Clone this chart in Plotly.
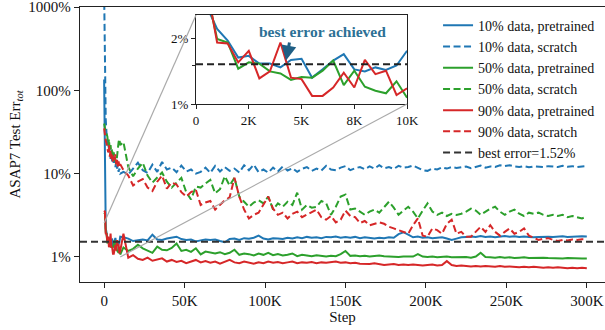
import numpy as np
import plotly.graph_objects as go

# ---------------- data ----------------
steps_early = list(range(0, 10001, 500))
steps_late = list(range(12000, 300001, 3000))
steps = steps_early + steps_late

p10_early = [135, 2.8, 2.20, 1.95, 1.63, 1.66, 1.53, 1.53, 1.47, 1.59, 1.61, 1.32, 1.44, 1.58, 1.69, 1.44, 1.41, 1.47, 1.43, 1.50, 1.75]
p50_early = [3.4, 3.3, 1.98, 1.91, 1.45, 1.55, 1.53, 1.41, 1.38, 1.29, 1.33, 1.32, 1.42, 1.58, 1.22, 1.42, 1.20, 1.15, 1.12, 1.27, 1.07]
p90_early = [3.6, 3.5, 1.91, 1.89, 1.55, 1.75, 1.31, 1.41, 1.91, 1.32, 1.30, 1.09, 1.09, 1.19, 1.39, 1.19, 1.59, 1.37, 1.42, 1.10, 1.18]
s10_early = [1500, 150, 45, 30, 22, 25, 18, 20, 15, 17, 14, 16, 13, 15, 12, 14, 11.5, 12.5, 10.5, 11.5, 10]
s50_early = [40, 33, 31, 30, 28, 22, 26, 19, 22, 17, 20, 15, 18, 14, 16, 13, 17, 21, 24, 26, 22]
s90_early = [35, 28, 25, 23, 20, 18, 22, 16, 19, 15, 17, 13.5, 16, 14, 17, 13, 15, 12, 14, 12, 13]

p10_late = [1.72, 1.66, 1.55, 1.58, 1.62, 1.58, 1.85, 1.62, 1.60, 1.66,
            1.70, 1.75, 1.64, 1.60, 1.62, 1.53, 1.58, 1.62, 1.60, 1.62,
            1.55, 1.50, 1.64, 1.66, 1.60, 1.68, 1.65, 1.70, 1.80, 1.66,
            1.62, 1.68, 1.66, 1.64, 1.70, 1.66, 1.72, 1.68, 1.74, 1.70,
            1.72, 1.68, 1.74, 1.72, 1.76, 1.70, 1.73, 1.70, 1.74, 1.68,
            1.72, 1.70, 1.66, 1.70, 1.68, 1.72, 1.70, 1.88, 1.98, 1.85,
            1.72, 1.76, 1.70, 1.72, 1.68, 1.70, 1.72, 1.66, 1.60, 1.66,
            1.72, 1.74, 1.76, 1.74, 1.78, 1.74, 1.76, 1.72, 1.76, 1.78,
            1.75, 1.77, 1.74, 1.76, 1.74, 1.72, 1.74, 1.76, 1.75, 1.73,
            1.75, 1.77, 1.74, 1.76, 1.75, 1.77, 1.76]
s10_late = [10.5, 9.8, 11.5, 13.5, 11.0, 10.2, 12.8, 10.5, 13.8, 11.2,
            11.8, 10.4, 12.5, 10.6, 11.2, 10.0, 10.5, 11.8, 10.2, 12.4,
            10.6, 12.0, 10.8, 11.5, 10.3, 12.6, 11.0, 12.8, 10.4, 11.2,
            10.3, 11.8, 10.6, 12.2, 10.9, 11.6, 10.5, 11.4, 12.0, 10.8,
            11.5, 10.9, 12.4, 11.2, 11.0, 11.8, 12.3, 11.0, 11.6, 12.0,
            11.3, 12.2, 11.5, 12.6, 11.6, 12.0, 11.4, 12.4, 11.8, 12.0,
            12.5, 11.6, 11.0, 10.8, 11.5, 11.2, 11.9, 11.5, 12.0, 11.7,
            11.9, 12.2, 11.6, 12.1, 12.5, 11.8, 12.2, 12.0, 12.6, 12.3,
            12.6, 12.2, 12.0, 12.3, 11.9, 12.2, 12.1, 12.0, 12.3, 12.1,
            12.0, 12.4, 12.1, 12.3, 12.0, 12.2, 12.3]
p50_late = [1.30, 1.18, 1.25, 1.40, 1.27, 1.18, 1.12, 1.33, 1.22, 1.20,
            1.28, 1.45, 1.18, 1.22, 1.15, 1.27, 1.07, 1.16, 1.12, 1.10,
            1.14, 1.08, 1.12, 1.22, 1.06, 1.10, 1.08, 1.04, 1.10, 1.06,
            1.12, 1.05, 1.08, 1.04, 1.06, 1.10, 1.02, 1.06, 1.04, 1.02,
            1.05, 1.03, 1.01, 1.03, 1.02, 1.08, 1.18, 1.03, 1.04, 1.02,
            1.03, 1.01, 1.03, 1.04, 1.02, 1.01, 1.02, 1.00, 1.01, 1.02,
            1.01, 1.08, 1.01, 1.00, 1.01, 0.99, 1.00, 1.01, 0.99, 1.00,
            0.99, 1.00, 0.98, 1.01, 1.12, 1.00, 0.99, 0.98, 1.00, 0.98,
            0.99, 0.97, 0.98, 0.99, 0.97, 0.98, 0.97, 0.98, 0.97, 0.96,
            0.97, 0.96, 0.97, 0.96, 0.97, 0.96, 0.96]
s50_late = [24, 12, 9.3, 11.5, 13.5, 9.5, 7.8, 9.0, 10.3, 8.0,
            6.8, 7.8, 8.9, 6.0, 4.9, 7.0, 6.8, 7.6, 8.4, 5.8,
            6.5, 9.3, 7.2, 8.9, 5.3, 4.6, 4.0, 4.5, 4.8, 4.4,
            5.3, 3.7, 4.4, 4.0, 4.6, 4.2, 5.9, 3.7, 4.2, 3.9,
            4.0, 4.7, 4.4, 3.2, 4.0, 5.3, 5.6, 3.7, 3.8, 3.5,
            3.2, 3.5, 3.7, 3.4, 4.0, 4.6, 3.9, 3.2, 3.6, 4.0,
            3.5, 2.9, 3.6, 4.4, 3.5, 3.2, 3.4, 3.1, 3.3, 3.2,
            3.3, 3.5, 3.8, 3.6, 3.2, 3.5, 3.8, 4.0, 3.5, 3.2,
            3.5, 3.7, 3.3, 3.1, 3.4, 3.3, 3.4, 3.2, 3.1, 3.2,
            3.1, 3.2, 3.0, 3.1, 3.0, 2.9, 3.05]
p90_late = [1.90, 0.98, 1.05, 0.95, 0.92, 0.98, 0.90, 0.93, 0.96, 0.88,
            0.92, 0.87, 0.90, 0.84, 0.88, 0.92, 0.86, 0.89, 0.85, 0.88,
            0.83, 0.87, 0.92, 0.86, 0.84, 0.88, 0.85, 0.83, 0.86, 0.84,
            0.88, 0.85, 0.87, 0.84, 0.86, 0.88, 0.84, 0.86, 0.85, 0.87,
            0.84, 0.86, 0.85, 0.87, 0.88, 0.85, 0.86, 0.84, 0.85, 0.83,
            0.83, 0.82, 0.84, 0.82, 0.80, 0.81, 0.82, 0.80, 0.81, 0.80,
            0.81, 0.80, 0.79, 0.80, 0.81, 0.79, 0.80, 0.89, 0.80, 0.78,
            0.79, 0.78, 0.77, 0.78, 0.77, 0.78, 0.77, 0.76, 0.78, 0.76,
            0.77, 0.76, 0.75, 0.76, 0.75, 0.76, 0.75, 0.74, 0.75, 0.74,
            0.75, 0.74, 0.73, 0.74, 0.73, 0.74, 0.73]
s90_late = [11, 9.5, 7.2, 8.0, 8.6, 6.8, 6.2, 8.0, 9.5, 6.6,
            7.8, 7.4, 6.0, 5.3, 6.0, 6.4, 4.2, 4.5, 4.7, 3.7,
            4.2, 4.8, 5.2, 8.9, 5.3, 3.7, 2.9, 3.2, 3.4, 4.2,
            5.3, 3.8, 3.2, 3.4, 2.9, 3.3, 3.5, 3.0, 3.2, 3.4,
            3.7, 3.0, 2.8, 3.1, 2.6, 2.8, 3.6, 3.1, 3.0, 2.55,
            2.7, 2.4, 2.5, 2.6, 2.5, 2.3, 2.2, 2.1, 2.0, 1.9,
            2.4, 2.9, 1.8, 1.75, 2.2, 2.1, 1.9, 2.5, 2.8, 1.9,
            2.0, 1.75, 1.75, 2.0, 2.3, 2.0, 2.4, 2.0, 1.8, 2.0,
            2.2, 1.9, 2.0, 2.2, 1.8, 1.7, 1.6, 1.65, 1.68, 1.6,
            1.55, 1.6, 1.58, 1.62, 1.6, 1.63, 1.62]

best_error = 1.52

series = [
    ("10% data, pretrained", p10_early + p10_late, "#1f77b4", "solid"),
    ("10% data, scratch", s10_early + s10_late, "#1f77b4", "7px,3.5px"),
    ("50% data, pretrained", p50_early + p50_late, "#2ca02c", "solid"),
    ("50% data, scratch", s50_early + s50_late, "#2ca02c", "7px,3.5px"),
    ("90% data, pretrained", p90_early + p90_late, "#d62728", "solid"),
    ("90% data, scratch", s90_early + s90_late, "#d62728", "7px,3.5px"),
]

FONT = "Liberation Serif"
XR = [-15000, 311300]
YR = [np.log10(0.5), 3.0005]
INSET_X = [0.221, 0.623]
INSET_Y = [0.647, 0.971]

fig = go.Figure()
for name, vals, col, dash in series:
    fig.add_trace(go.Scatter(x=steps, y=vals, mode="lines", name=name,
                             line=dict(color=col, width=2, dash=dash),
                             xaxis="x", yaxis="y"))
fig.add_trace(go.Scatter(x=[XR[0], XR[1]], y=[best_error, best_error], mode="lines",
                         name="best error=1.52%",
                         line=dict(color="#333333", width=2, dash="7px,4px"),
                         xaxis="x", yaxis="y"))

# inset traces (pretrained, early part)
for name, vals, col, dash in series:
    if dash != "solid":
        continue
    fig.add_trace(go.Scatter(x=steps_early, y=vals[:len(steps_early)], mode="lines",
                             line=dict(color=col, width=2), showlegend=False,
                             xaxis="x2", yaxis="y2"))
fig.add_trace(go.Scatter(x=[0, 10000], y=[best_error, best_error], mode="lines",
                         line=dict(color="#222222", width=2, dash="7px,4px"),
                         showlegend=False, xaxis="x2", yaxis="y2"))

def px(step):
    return (step - XR[0]) / (XR[1] - XR[0])

def py(v):
    return (np.log10(v) - YR[0]) / (YR[1] - YR[0])

rect_x0, rect_x1, rect_y0, rect_y1 = 0, 10000, 1.0, 2.55
shapes = [
    dict(type="rect", xref="x", yref="y", x0=rect_x0, x1=rect_x1,
         y0=np.log10(rect_y0), y1=np.log10(rect_y1),
         line=dict(color="#aaaaaa", width=1.5), layer="above"),
    dict(type="line", xref="paper", yref="paper", x0=px(rect_x0), y0=py(rect_y1),
         x1=INSET_X[0], y1=INSET_Y[1], line=dict(color="#aaaaaa", width=1.2), layer="above"),
    dict(type="line", xref="paper", yref="paper", x0=px(rect_x1), y0=py(rect_y0),
         x1=INSET_X[1], y1=INSET_Y[0], line=dict(color="#aaaaaa", width=1.2), layer="above"),
]

tickfont = dict(family=FONT, size=15, color="#111")
fig.update_layout(
    width=605, height=330,
    margin=dict(l=80, r=0, t=7, b=48),
    paper_bgcolor="white", plot_bgcolor="white",
    font=dict(family=FONT, size=15, color="#111"),
    shapes=shapes,
    showlegend=True,
    legend=dict(x=0.682, y=0.990, xanchor="left", yanchor="top",
                font=dict(family=FONT, size=14, color="#111"),
                bgcolor="rgba(255,255,255,0)", borderwidth=0,
                tracegroupgap=0),
    xaxis=dict(range=XR, automargin=False, showgrid=False, zeroline=False, showline=True,
               linecolor="#222", linewidth=1.2, mirror=True,
               ticks="outside", ticklen=5, tickcolor="#222",
               tickvals=[0, 50000, 100000, 150000, 200000, 250000, 300000],
               ticktext=["0", "50K", "100K", "150K", "200K", "250K", "300K"],
               tickfont=tickfont, ticklabeloverflow="allow",
               title=dict(text="Step", font=dict(family=FONT, size=15), standoff=2)),
    yaxis=dict(type="log", range=YR, automargin=False, showgrid=False, zeroline=False,
               showline=True, linecolor="#222", linewidth=1.2, mirror=False,
               ticks="outside", ticklen=5, tickcolor="#222",
               tickvals=[1, 10, 100, 1000], ticktext=["1%", "10%", "100%", "1000%"],
               tickfont=tickfont, ticklabeloverflow="allow",
               title=dict(text="ASAP7 Test Err<sub><i>tot</i></sub>",
                          font=dict(family=FONT, size=15), standoff=4)),
    xaxis2=dict(domain=INSET_X, anchor="y2", range=[0, 10000], automargin=False,
                showgrid=False, zeroline=False, showline=True, linecolor="#222",
                linewidth=1, mirror=True, ticks="outside", ticklen=4, tickcolor="#222",
                tickvals=[0, 2500, 5000, 7500, 10000],
                ticktext=["0", "2K", "5K", "8K", "10K"], ticklabeloverflow="allow",
                tickfont=dict(family=FONT, size=13, color="#111")),
    yaxis2=dict(domain=INSET_Y, anchor="x2", type="log", range=[0, np.log10(2.55)],
                automargin=False, showgrid=False, zeroline=False, showline=True,
                linecolor="#222", linewidth=1, mirror=True, ticks="outside", ticklen=4,
                tickcolor="#222", tickvals=[1, 2], ticktext=["1%", "2%"],
                ticklabeloverflow="allow",
                minor=dict(tickvals=[1.5], ticks="outside", ticklen=3, tickcolor="#222"),
                tickfont=dict(family=FONT, size=13, color="#111")),
)

fig.add_annotation(xref="x2", yref="y2", x=6000, y=np.log10(2.15),
                   text="<b>best error achieved</b>", showarrow=False,
                   font=dict(family=FONT, size=15.5, color="#2c7095"))
fig.add_annotation(xref="x2", yref="y2", x=4265, y=np.log10(1.58),
                   axref="x2", ayref="y2", ax=4440, ay=np.log10(1.94),
                   text="", showarrow=True, arrowhead=2, arrowsize=1,
                   arrowwidth=3, arrowcolor="#1f5f85")

fig.write_html("out.html",
               config={"displayModeBar": False, "staticPlot": True},
               post_script="document.body.style.margin='0';document.body.style.padding='0';")
